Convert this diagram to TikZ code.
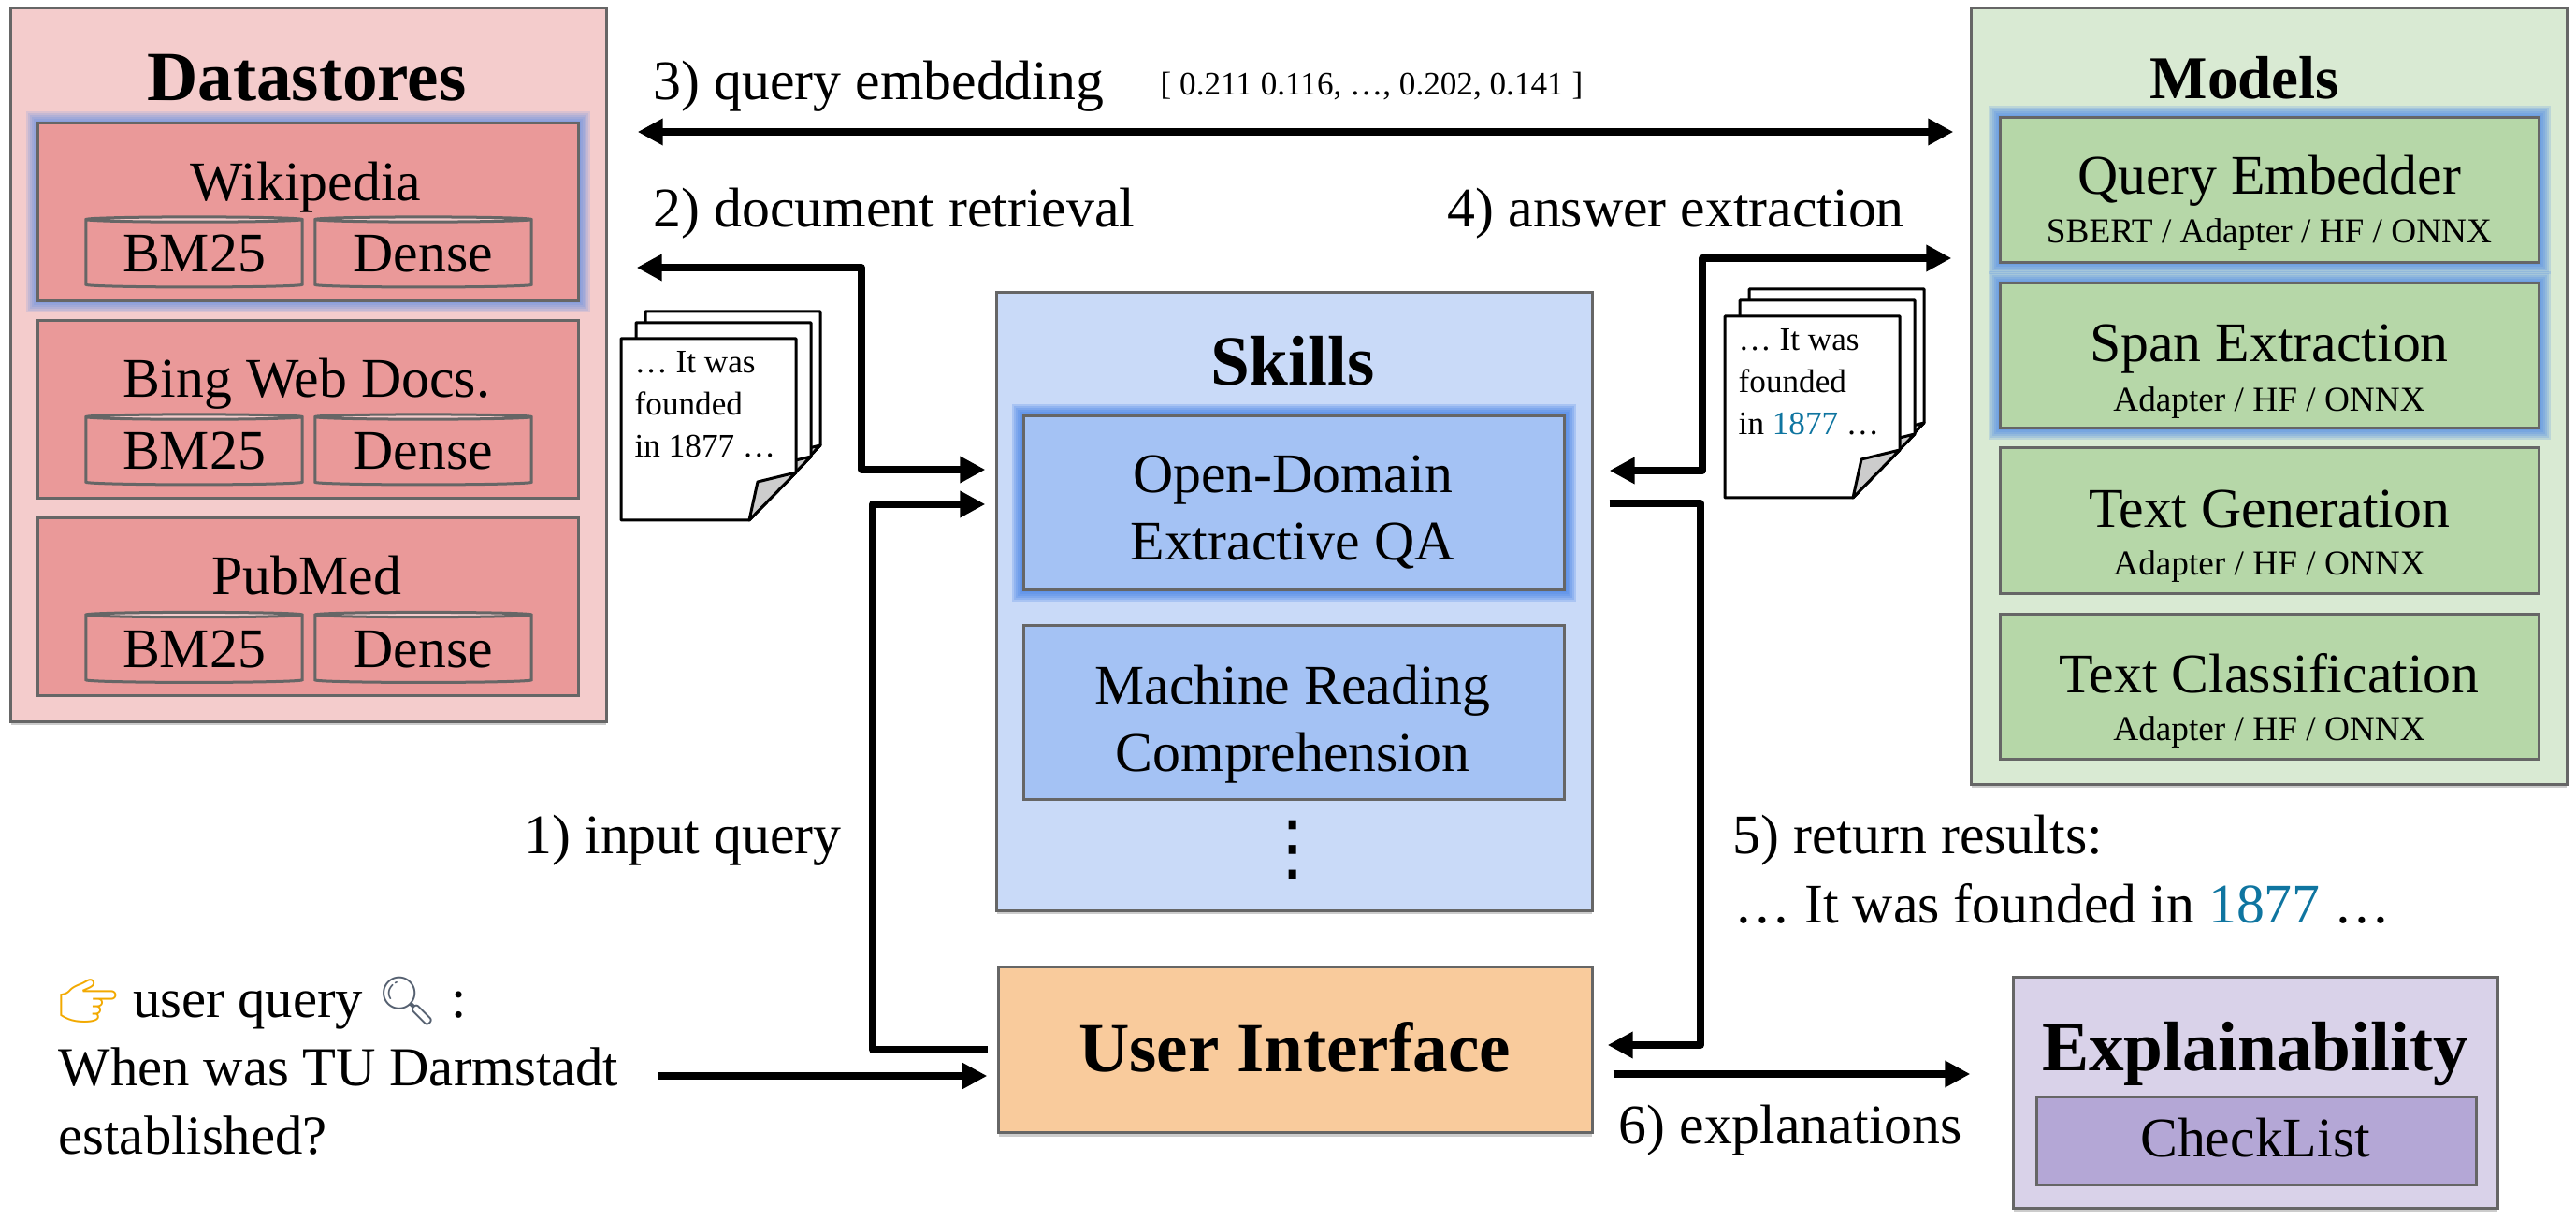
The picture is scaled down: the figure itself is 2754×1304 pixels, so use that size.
\documentclass[tikz,border=0pt]{standalone}
\usepackage{fontspec}
\setmainfont{Liberation Serif}
\newfontfamily\emojifont{Noto Emoji}
\newfontfamily\dotsfont{DejaVu Sans}
\usepackage{xcolor}
\usetikzlibrary{arrows.meta,calc,shapes.geometric,shadows}
\definecolor{frameline}{HTML}{666666}
\definecolor{storeouter}{HTML}{F4CCCC}
\definecolor{storeinner}{HTML}{EA9999}
\definecolor{skillouter}{HTML}{C9DAF8}
\definecolor{skillinner}{HTML}{A4C2F4}
\definecolor{modelouter}{HTML}{D9EAD3}
\definecolor{modelinner}{HTML}{B6D7A8}
\definecolor{uifill}{HTML}{F9CB9C}
\definecolor{explouter}{HTML}{D9D2E9}
\definecolor{explinner}{HTML}{B4A7D6}
\definecolor{glowblue}{HTML}{4A86E8}
\definecolor{yearblue}{HTML}{0F75A0}
\definecolor{foldgray}{HTML}{CCCCCC}
\definecolor{handyellow}{HTML}{F2A900}
\definecolor{lensgray}{HTML}{556070}
\newcommand{\docsheet}[2]{\begin{scope}[shift={(#1,#2)}]
\filldraw[docline,fill=white] (0,0) -- (187,0) -- (187,143) -- (137,194) -- (0,194) -- cycle;
\filldraw[docline,fill=foldgray] (137,194) -- (146,153) -- (187,143) -- cycle;
\end{scope}}
\newcommand{\docpile}[4]{\begin{scope}[shift={(#2,#3)}]
\docsheet{26}{-29}
\docsheet{16}{-17}
\docsheet{0}{0}
\node[doctext] (#1) at (14,13) {#4};
\end{scope}}
\begin{document}
\begin{tikzpicture}[-, x=0.01cm, y=-0.01cm,
frame/.style={draw=frameline, line width=0.03cm, inner sep=0pt},
shadowed/.style={frame, drop shadow={shadow xshift=0cm, shadow yshift=-0.04cm, fill=black, opacity=0.2}},
glowing/.style={preaction={draw=glowblue, line width=0.25cm, draw opacity=#1},
 preaction={draw=glowblue, line width=0.21cm, draw opacity=#1},
 preaction={draw=glowblue, line width=0.17cm, draw opacity=#1},
 preaction={draw=glowblue, line width=0.13cm, draw opacity=#1},
 preaction={draw=glowblue, line width=0.09cm, draw opacity=#1},
 preaction={draw=glowblue, line width=0.05cm, draw opacity=#1}},
storebox/.style={frame, fill=storeinner, minimum width=5.77cm, minimum height=1.89cm},
dbbox/.style={cylinder, shape border rotate=90, aspect=0.035, draw=frameline, line width=0.03cm, inner sep=0pt,
 cylinder uses custom fill, cylinder body fill=storeinner, cylinder end fill=storeouter,
 minimum width=2.31cm, minimum height=0.75cm, font=\fontsize{17}{20}\selectfont},
skillbox/.style={frame, fill=skillinner, minimum width=5.77cm, minimum height=1.85cm},
skilllabel/.style={inner sep=0pt, align=center, font=\fontsize{17}{20.5}\selectfont},
modelbox/.style={frame, fill=modelinner, minimum width=5.75cm, minimum height=1.55cm},
title/.style={inner sep=0pt, font=\fontsize{21.4}{25}\selectfont\bfseries},
boxlabel/.style={inner sep=0pt, font=\fontsize{17}{20}\selectfont},
sublabel/.style={inner sep=0pt, font=\fontsize{10.6}{13}\selectfont},
flowlabel/.style={inner sep=0pt, anchor=base west, font=\fontsize{17}{20}\selectfont},
doctext/.style={inner sep=0pt, anchor=north west, align=left, font=\fontsize{10}{12.8}\selectfont},
docline/.style={draw=black, line width=0.03cm, line join=round},
flow/.style={line width=0.08cm, line join=round, -{Triangle[length=0.27cm,width=0.27cm]}},
flowboth/.style={line width=0.08cm, line join=round, {Triangle[length=0.27cm,width=0.27cm]}-{Triangle[length=0.27cm,width=0.27cm]}}]
\useasboundingbox (0,0) rectangle (2754,1304);
\node[shadowed, fill=storeouter, minimum width=6.36cm, minimum height=7.62cm] (stores) at (330,390) {};
\node[title] (storestitle) at (328,83) {Datastores};
\node[storebox, glowing=0.15] (wiki) at (329.5,226.5) {};
\node[boxlabel] (wikilabel) at (327,200) {Wikipedia};
\node[dbbox] (wikibm) at (207.5,271.5) {BM25};
\node[dbbox] (wikidense) at (452.5,271.5) {Dense};
\node[storebox] (bing) at (329.5,437.5) {};
\node[boxlabel] (binglabel) at (328,410) {Bing Web Docs.};
\node[dbbox] (bingbm) at (207.5,482.5) {BM25};
\node[dbbox] (bingdense) at (452.5,482.5) {Dense};
\node[storebox] (pubmed) at (329.5,648.5) {};
\node[boxlabel] (pubmedlabel) at (328,615) {PubMed};
\node[dbbox] (pubmedbm) at (207.5,694) {BM25};
\node[dbbox] (pubmeddense) at (452.5,694) {Dense};
\node[shadowed, fill=skillouter, minimum width=6.36cm, minimum height=6.6cm] (skills) at (1384,643) {};
\node[title] (skillstitle) at (1382,386) {Skills};
\node[skillbox, glowing=0.25] (opendomain) at (1383.5,537.5) {};
\node[skilllabel] (opendomainlabel) at (1382,548) {Open-Domain\\Extractive QA};
\node[skillbox] (reading) at (1383.5,761.5) {};
\node[skilllabel] (readinglabel) at (1382,774) {Machine Reading\\Comprehension};
\node[inner sep=0pt, font=\dotsfont\fontsize{22}{26}\selectfont] (moreskills) at (1382,908) {⋮};
\node[shadowed, fill=uifill, minimum width=6.34cm, minimum height=1.77cm] (ui) at (1385,1122) {};
\node[title] (uilabel) at (1384,1119) {User Interface};
\node[shadowed, fill=modelouter, minimum width=6.36cm, minimum height=8.29cm] (models) at (2426,423.5) {};
\node[title, font=\fontsize{18.5}{25}\selectfont\bfseries] (modelstitle) at (2400,83) {Models};
\node[modelbox, glowing=0.2] (embedder) at (2426.5,203) {};
\node[modelbox, glowing=0.2] (span) at (2426.5,380) {};
\node[modelbox] (generation) at (2426.5,556.5) {};
\node[modelbox] (classify) at (2426.5,734) {};
\node[boxlabel] (embedderlabel) at (2426,193) {Query Embedder};
\node[sublabel] (embeddersub) at (2426,251) {SBERT / Adapter / HF / ONNX};
\node[boxlabel] (spanlabel) at (2426,373) {Span Extraction};
\node[sublabel] (spansub) at (2426,431) {Adapter / HF / ONNX};
\node[boxlabel] (generationlabel) at (2426,544) {Text Generation};
\node[sublabel] (generationsub) at (2426,606) {Adapter / HF / ONNX};
\node[boxlabel] (classifylabel) at (2426,720) {Text Classification};
\node[sublabel] (classifysub) at (2426,783) {Adapter / HF / ONNX};
\node[shadowed, fill=explouter, minimum width=5.17cm, minimum height=2.46cm] (expl) at (2411.5,1168) {};
\node[title] (expltitle) at (2411,1127) {Explainability};
\node[frame, fill=explinner, minimum width=4.69cm, minimum height=0.93cm] (checklist) at (2412.5,1219.5) {};
\node[boxlabel] (checklistlabel) at (2411,1216) {CheckList};
\docpile{retrieved}{664}{362}{… It was\\founded\\in 1877 …}
\docpile{extracted}{1844}{338}{… It was\\founded\\in \textcolor{yearblue}{1877} …}
\node[flowlabel] (embedlabel) at (698,107) {3) query embedding};
\node[inner sep=0pt, anchor=base west, font=\fontsize{10}{12}\selectfont] (vector) at (1240,102) {[ 0.211 0.116, …, 0.202, 0.141 ]};
\node[flowlabel] (retrievallabel) at (698,243) {2) document retrieval};
\node[flowlabel] (answerlabel) at (1547,243) {4) answer extraction};
\node[flowlabel] (inputlabel) at (560,913) {1) input query};
\node[flowlabel] (resultlabel) at (1852,913) {5) return results:};
\node[flowlabel] (resulttext) at (1854,987) {… It was founded in \textcolor{yearblue}{1877} …};
\node[flowlabel] (expllabel) at (1730,1222) {6) explanations};
\node[inner sep=0pt, anchor=west, align=left, font=\fontsize{16.7}{20.8}\selectfont] (ask) at (62,1139) {{\emojifont\fontsize{14.5}{20}\selectfont\color{handyellow}👉} user query {\emojifont\fontsize{14.5}{20}\selectfont\color{lensgray}🔍} :\\When was TU Darmstadt\\established?};
\coordinate (embedrow) at (0,141);
\coordinate (docbend) at (921,286);
\coordinate (docin) at (921,502);
\coordinate (querybend) at (933,1122);
\coordinate (queryin) at (933,539);
\coordinate (askstart) at (704,1150);
\coordinate (answerbend) at (1820,276);
\coordinate (answerin) at (1820,503);
\coordinate (resultout) at (1818,538);
\coordinate (resultin) at (1818,1117);
\coordinate (explstart) at (0,1148);
\draw[flowboth, shorten <=0.32cm, shorten >=0.18cm] (stores.east |- embedrow) -- (models.west |- embedrow);
\draw[flowboth, shorten <=0.31cm, shorten >=0.11cm] (stores.east |- docbend) -- (docbend) -- (docin) -- (skills.west |- docin);
\draw[flow, shorten <=0.1cm, shorten >=0.11cm] (ui.west) -- (querybend) -- (queryin) -- (skills.west |- queryin);
\draw[flow, shorten >=0.11cm] (askstart) -- (ui.west |- askstart);
\draw[flowboth, shorten <=0.17cm, shorten >=0.2cm] (skills.east |- answerin) -- (answerin) -- (answerbend) -- (models.west |- answerbend);
\draw[flow, shorten <=0.17cm, shorten >=0.15cm] (skills.east |- resultout) -- (resultout) -- (resultin) -- (ui.east |- resultin);
\draw[flow, shorten <=0.21cm, shorten >=0.45cm] (ui.east |- explstart) -- (expl.west |- explstart);
\end{tikzpicture}
\end{document}
